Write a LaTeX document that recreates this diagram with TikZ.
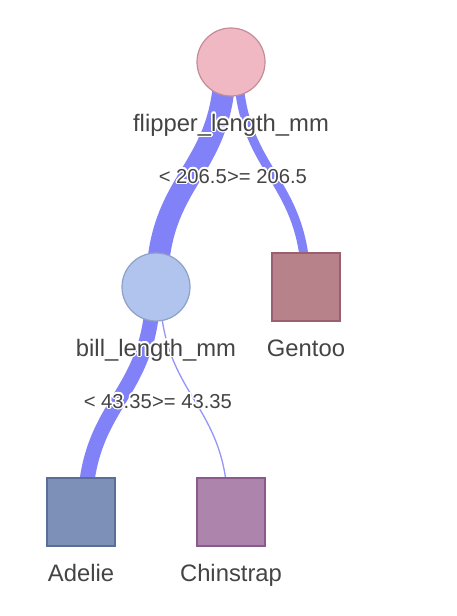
\documentclass[tikz,border=0pt]{standalone}
\usepackage{fontspec}
\setmainfont{Liberation Sans}
\usepackage[copies]{contour}
\contourlength{1.4pt}
\contournumber{24}
\definecolor{linkc}{HTML}{8282F8}
\definecolor{thinc}{HTML}{9494FA}
\definecolor{txt}{HTML}{444444}
\definecolor{rootf}{HTML}{F0B8C2}
\definecolor{rootd}{HTML}{C48C96}
\definecolor{billf}{HTML}{B0C4EE}
\definecolor{billd}{HTML}{8DA0C6}
\definecolor{gentf}{HTML}{B8828A}
\definecolor{gentd}{HTML}{9A6070}
\definecolor{adef}{HTML}{7C90B8}
\definecolor{aded}{HTML}{5A6E98}
\definecolor{chinf}{HTML}{AC84AC}
\definecolor{chind}{HTML}{8A5A8C}
\tikzset{
  split/.style={circle,minimum size=68pt,inner sep=0pt,line width=1.2pt},
  leaf/.style={rectangle,minimum size=68pt,inner sep=0pt,line width=1.2pt},
  link/.style={draw=linkc,line cap=butt},
  curve/.style={out=-90,in=90,looseness=1.22},
  nlabel/.style={inner sep=0pt,text=txt,font=\fontsize{23.8}{28}\selectfont},
  elabel/.style={inner sep=0pt,text=txt,font=\fontsize{20.2}{24}\selectfont},
}
\newcommand{\halo}[1]{\contour{white}{#1}}
\begin{document}
\begin{tikzpicture}[x=1pt,y=1pt]
\useasboundingbox (0,0) rectangle (456,-616);
% node positions
\coordinate (rootc) at (231,-62);
\coordinate (billc) at (156,-287);
\coordinate (gentc) at (306,-287);
\coordinate (adec) at (81,-512);
\coordinate (chinc) at (231,-512);
% links
\draw[link,line width=22pt] ([xshift=-6pt]rootc) to[curve] ([xshift=1pt]billc);
\draw[link,line width=9pt] ([xshift=7pt]rootc) to[curve] (gentc);
\draw[link,line width=15pt] ([xshift=-3pt]billc) to[curve] ([xshift=4pt]adec);
\draw[link,draw=thinc,line width=1.3pt] ([xshift=4pt]billc) to[curve] ([xshift=-3pt]chinc);
% nodes
\node[split,fill=rootf,draw=rootd] (root) at (rootc) {};
\node[split,fill=billf,draw=billd] (bill) at (billc) {};
\node[leaf,fill=gentf,draw=gentd] (gent) at (gentc) {};
\node[leaf,fill=adef,draw=aded] (ade) at (adec) {};
\node[leaf,fill=chinf,draw=chind] (chin) at (chinc) {};
% node labels
\node[nlabel,anchor=base] (rootl) at ([yshift=-69pt]root.center) {\halo{flipper\_length\_mm}};
\node[nlabel,anchor=base] (billl) at ([yshift=-69pt]bill.center) {\halo{bill\_length\_mm}};
\node[nlabel,anchor=base] (gentl) at ([yshift=-69pt]gent.center) {\halo{Gentoo}};
\node[nlabel,anchor=base] (adel) at ([yshift=-69pt]ade.center) {\halo{Adelie}};
\node[nlabel,anchor=base] (chinl) at ([yshift=-69pt]chin.center) {\halo{Chinstrap}};
% edge labels
\node[elabel,anchor=base east] (e1) at ([xshift=-4pt,yshift=-121pt]root.center) {\halo{< 206.5}};
\node[elabel,anchor=base west] (e2) at ([xshift=-4pt,yshift=-121pt]root.center) {\halo{>= 206.5}};
\node[elabel,anchor=base east] (e3) at ([xshift=-4pt,yshift=-121pt]bill.center) {\halo{< 43.35}};
\node[elabel,anchor=base west] (e4) at ([xshift=-4pt,yshift=-121pt]bill.center) {\halo{>= 43.35}};
\end{tikzpicture}
\end{document}
